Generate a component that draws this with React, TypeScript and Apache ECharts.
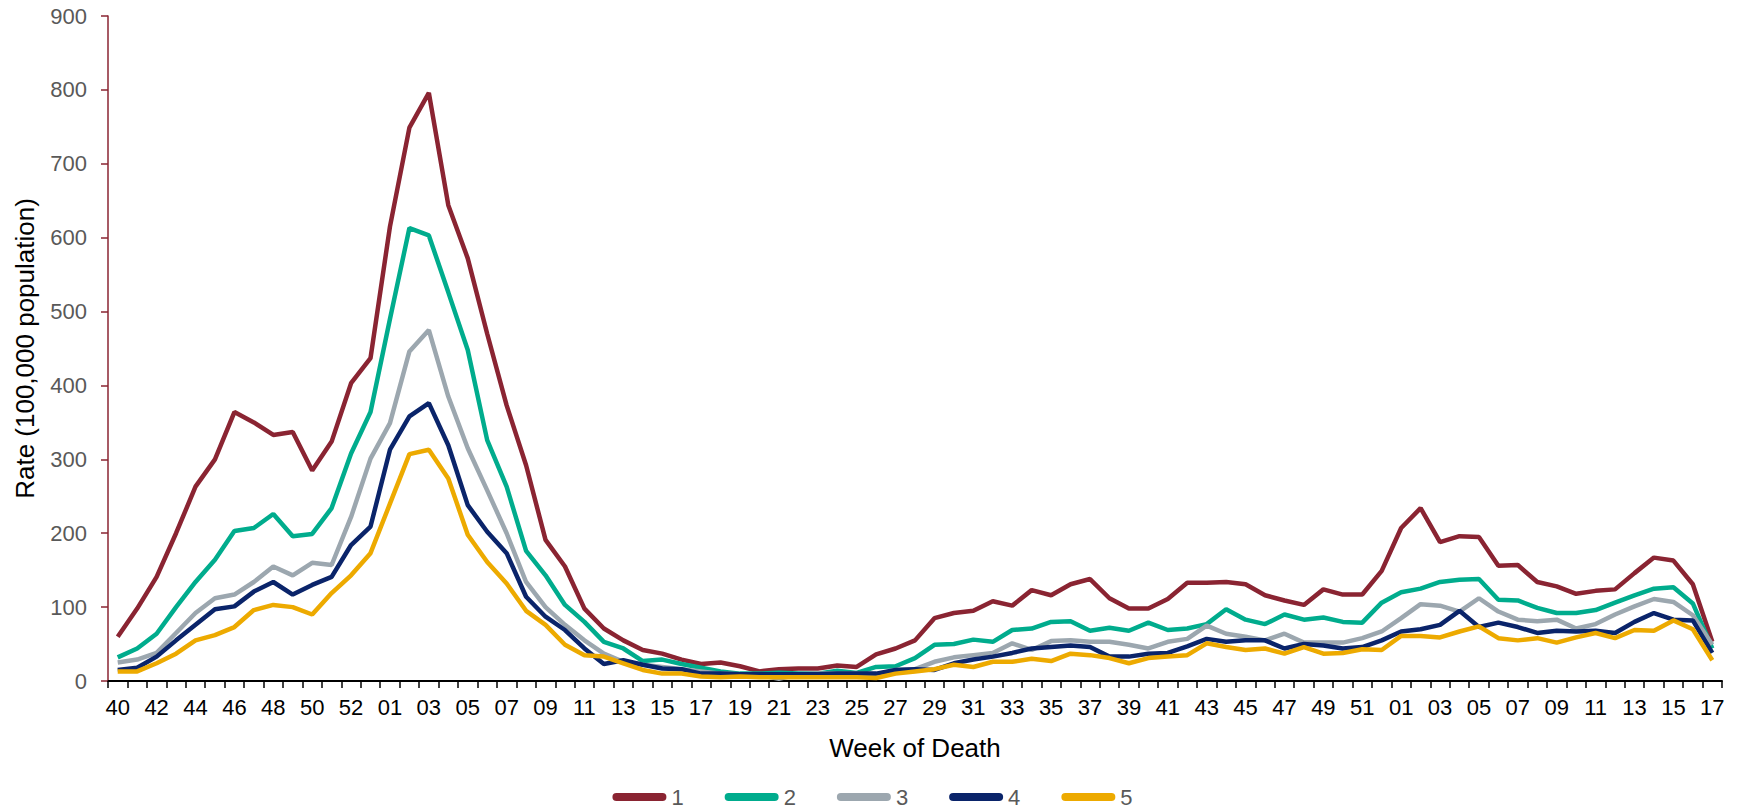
import React, { useEffect, useRef } from "react";
import * as echarts from "echarts";

const weeks = [
  "40", "41", "42", "43", "44", "45", "46", "47", "48", "49", "50", "51", "52", "53",
  "01", "02", "03", "04", "05", "06", "07", "08", "09", "10", "11", "12", "13", "14", "15", "16", "17", "18", "19", "20",
  "21", "22", "23", "24", "25", "26", "27", "28", "29", "30", "31", "32", "33", "34", "35", "36", "37", "38", "39", "40",
  "41", "42", "43", "44", "45", "46", "47", "48", "49", "50", "51", "52",
  "01", "02", "03", "04", "05", "06", "07", "08", "09", "10", "11", "12", "13", "14", "15", "16", "17",
];

const group1 = [
  60, 98, 141, 200, 263, 300, 364, 350, 333, 337,
  285, 324, 403, 437, 615, 749, 796, 644, 572, 470,
  373, 292, 191, 155, 98, 71, 55, 42, 37, 29,
  23, 25, 20, 13, 16, 17, 17, 21, 19, 36,
  44, 55, 85, 92, 95, 108, 102, 123, 116, 131,
  138, 112, 98, 98, 111, 133, 133, 134, 131, 116,
  109, 103, 124, 117, 117, 149, 207, 234, 188, 196,
  195, 156, 157, 134, 128, 118, 122, 124, 146, 167,
  163, 131, 53,
];

const group2 = [
  32, 44, 64, 100, 134, 164, 203, 207, 226, 196,
  199, 234, 308, 364, 490, 613, 603, 526, 448, 326,
  263, 176, 143, 103, 80, 53, 44, 27, 29, 23,
  18, 13, 10, 10, 11, 10, 10, 14, 11, 19,
  20, 31, 49, 50, 56, 53, 69, 71, 80, 81,
  68, 72, 68, 79, 69, 71, 77, 97, 83, 77,
  90, 83, 86, 80, 79, 106, 120, 125, 134, 137,
  138, 110, 109, 99, 92, 92, 96, 106, 116, 125,
  127, 105, 44,
];

const group3 = [
  25, 29, 38, 65, 92, 112, 117, 134, 155, 143,
  160, 157, 222, 301, 349, 446, 475, 385, 315, 258,
  200, 134, 100, 76, 55, 37, 26, 22, 19, 16,
  13, 10, 9, 8, 3, 9, 10, 10, 10, 9,
  15, 16, 26, 32, 35, 38, 51, 42, 54, 55,
  53, 53, 49, 44, 53, 57, 75, 64, 60, 55,
  64, 52, 52, 52, 58, 67, 85, 104, 102, 94,
  112, 94, 83, 81, 83, 71, 77, 90, 101, 111,
  107, 89, 49,
];

const group4 = [
  15, 18, 33, 55, 76, 97, 101, 121, 134, 117,
  130, 141, 184, 209, 313, 358, 376, 319, 238, 202,
  173, 114, 87, 69, 44, 23, 28, 22, 17, 16,
  10, 10, 9, 9, 9, 9, 9, 10, 10, 10,
  15, 16, 15, 24, 29, 33, 38, 44, 46, 48,
  46, 33, 33, 37, 38, 47, 57, 53, 55, 55,
  44, 50, 48, 44, 46, 55, 67, 70, 76, 95,
  73, 79, 73, 65, 68, 67, 68, 65, 80, 92,
  83, 82, 38,
];

const group5 = [
  13, 13, 24, 37, 55, 62, 73, 96, 103, 100,
  90, 119, 143, 173, 240, 307, 313, 274, 198, 161,
  132, 95, 76, 49, 35, 33, 24, 15, 10, 10,
  6, 5, 6, 5, 5, 5, 5, 5, 5, 4,
  10, 13, 16, 22, 19, 26, 26, 30, 27, 37,
  35, 31, 24, 31, 33, 35, 51, 46, 42, 44,
  37, 46, 37, 38, 43, 42, 61, 61, 59, 67,
  74, 58, 55, 58, 52, 59, 65, 58, 69, 68,
  82, 70, 28,
];

const seriesNames = ["1", "2", "3", "4", "5"];
const seriesData = [group1, group2, group3, group4, group5];
const colors = ["#8A2432", "#00AC8D", "#9CA7AF", "#0A246A", "#EDAA00"];

const FONT = "'Liberation Sans', Arial, sans-serif";

export default function App() {
  const ref = useRef<HTMLDivElement>(null);

  useEffect(() => {
    if (!ref.current) return;
    const chart = echarts.init(ref.current, undefined, { renderer: "svg" });
    chart.setOption({
      animation: false,
      backgroundColor: "#ffffff",
      textStyle: { fontFamily: FONT },
      grid: { left: 108, right: 23, top: 16, bottom: 128, containLabel: false },
      legend: {
        data: seriesNames,
        left: "center",
        top: 786,
        padding: 0,
        itemWidth: 54,
        itemHeight: 8,
        itemGap: 41,
        icon: "path://M4,0 L50,0 A4,4 0 0 1 50,8 L4,8 A4,4 0 0 1 4,0 Z",
        textStyle: { color: "#595959", fontSize: 22, lineHeight: 20, fontFamily: FONT },
      },
      xAxis: {
        type: "category",
        data: weeks,
        boundaryGap: true,
        name: "Week of Death",
        nameLocation: "middle",
        nameGap: 54,
        nameTextStyle: { color: "#000000", fontSize: 26, fontFamily: FONT },
        axisLine: { show: true, lineStyle: { color: "#000000", width: 2 } },
        axisTick: { show: true, interval: 0, length: 7, lineStyle: { color: "#000000", width: 1.5 } },
        axisLabel: { interval: 1, margin: 15, color: "#000000", fontSize: 22, fontFamily: FONT },
        splitLine: { show: false },
      },
      yAxis: {
        type: "value",
        min: 0,
        max: 900,
        interval: 100,
        name: "Rate (100,000 population)",
        nameLocation: "middle",
        nameGap: 70,
        nameTextStyle: { color: "#000000", fontSize: 26, fontFamily: FONT },
        axisLine: { show: true, lineStyle: { color: "#8A2432", width: 1.5 } },
        axisTick: { show: true, length: 7, lineStyle: { color: "#8A2432", width: 1.5 } },
        axisLabel: { margin: 21, color: "#595959", fontSize: 22, fontFamily: FONT },
        splitLine: { show: false },
      },
      series: seriesNames.map((name, k) => ({
        name,
        type: "line",
        data: seriesData[k],
        showSymbol: false,
        symbol: "none",
        color: colors[k],
        lineStyle: { color: colors[k], width: 4.5 },
      })),
    });
    return () => chart.dispose();
  }, []);

  return (
    <div
      ref={ref}
      style={{ position: "fixed", left: 0, top: 0, width: "1745px", height: "809px", background: "#fff" }}
    />
  );
}
